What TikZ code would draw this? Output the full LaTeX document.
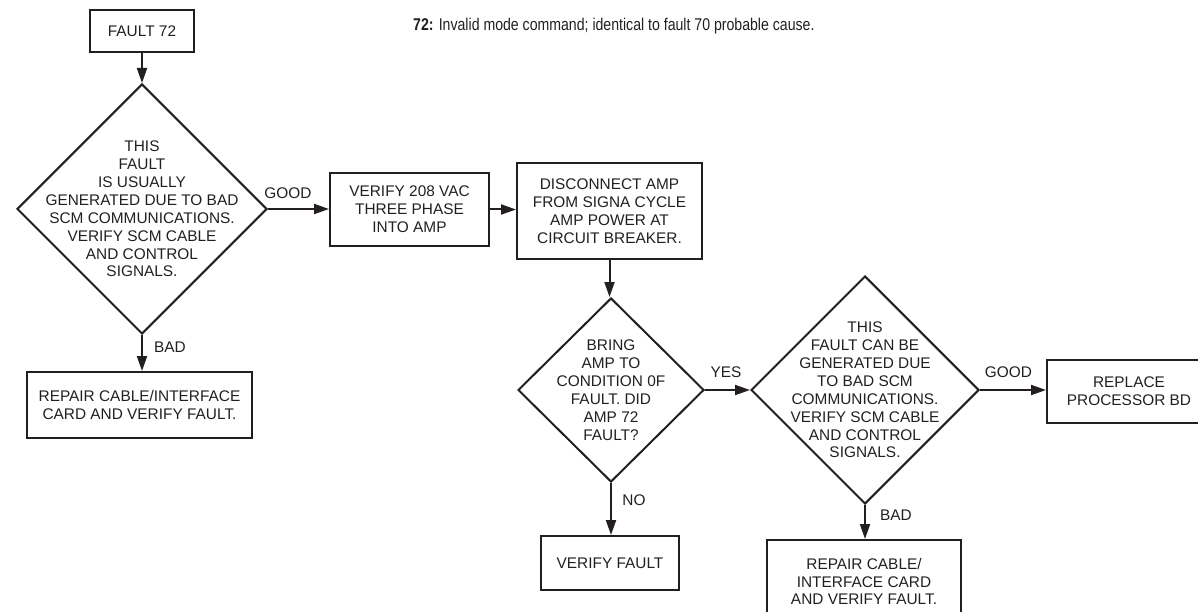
\documentclass[tikz,border=0pt]{standalone}
\usepackage{fontspec}
\setmainfont{Liberation Sans}
\newfontfamily\titlefont[FakeStretch=0.83]{Liberation Sans}
\usetikzlibrary{shapes.geometric,arrows.meta}
\definecolor{ink}{HTML}{231F20}

\newcommand{\chartfont}{\fontsize{15.4}{17.9}\selectfont}

\tikzset{
  every node/.style={text=ink, font=\chartfont},
  stepbox/.style={draw=ink, line width=2pt, rectangle, inner sep=0pt, align=center},
  decision/.style={draw=ink, line width=2pt, diamond, aspect=1, inner sep=0pt},
  flow/.style={draw=ink, line width=2pt, -{Triangle[length=15pt,width=10pt]}},
  tag/.style={inner sep=0pt, anchor=center}
}

\begin{document}
\begin{tikzpicture}[x=1pt,y=-1pt]
\useasboundingbox (0,0) rectangle (1198,612);
\clip (0,0) rectangle (1198,612);

% heading
\node[anchor=base west, inner sep=0pt, font=\titlefont\fontsize{17}{20}\selectfont] (title) at (413,31)
  {\textbf{72:} Invalid mode command; identical to fault 70 probable cause.};

% left branch
\node[stepbox, minimum width=104pt, minimum height=42pt] (f72) at (142,31) {FAULT 72};
\node[decision, minimum width=250pt, minimum height=250pt,
  label={[align=center, font=\chartfont]center:THIS\\FAULT\\IS USUALLY\\GENERATED DUE TO BAD\\SCM COMMUNICATIONS.\\VERIFY SCM CABLE\\AND CONTROL\\SIGNALS.}]
  (d1) at (142,209) {};
\node[stepbox, minimum width=225pt, minimum height=66pt] (rl) at (139.5,405)
  {REPAIR CABLE/INTERFACE\\CARD AND VERIFY FAULT.};

% middle row
\node[stepbox, minimum width=159pt, minimum height=73pt] (vac) at (409.5,209.5)
  {VERIFY 208 VAC\\THREE PHASE\\INTO AMP};
\node[stepbox, minimum width=185pt, minimum height=96pt] (disc) at (609.5,211)
  {DISCONNECT AMP\\FROM SIGNA CYCLE\\AMP POWER AT\\CIRCUIT BREAKER.};

% second decision
\node[decision, minimum width=186pt, minimum height=184pt,
  label={[align=center, font=\chartfont]center:BRING\\AMP TO\\CONDITION 0F\\FAULT. DID\\AMP 72\\FAULT?}]
  (d2) at (611,390) {};
\node[stepbox, minimum width=138pt, minimum height=54pt] (vf) at (610,563) {VERIFY FAULT};

% third decision
\node[decision, minimum width=228pt, minimum height=228pt,
  label={[align=center, font=\chartfont]center:THIS\\FAULT CAN BE\\GENERATED DUE\\TO BAD SCM\\COMMUNICATIONS.\\VERIFY SCM CABLE\\AND CONTROL\\SIGNALS.}]
  (d3) at (865,390) {};
\node[stepbox, minimum width=164pt, minimum height=63pt] (proc) at (1129,391.5)
  {REPLACE\\PROCESSOR BD};
\node[stepbox, minimum width=194pt, minimum height=83pt, text depth=0pt] (rr) at (864,581.5)
  {REPAIR CABLE/\\INTERFACE CARD\\AND VERIFY FAULT.};

% connectors
\draw[flow] (f72.south) -- (d1.north);
\draw[flow] (d1.east) -- (vac.west |- d1.east);
\draw[flow] (d1.south) -- (d1.south |- rl.north);
\draw[flow] (vac.east) -- (vac.east -| disc.west);
\draw[flow] (disc.south) -- (disc.south |- d2.north);
\draw[flow] (d2.south) -- (d2.south |- vf.north);
\draw[flow] (d2.east) -- (d3.west);
\draw[flow] (d3.east) -- (d3.east -| proc.west);
\draw[flow] (d3.south) -- (d3.south |- rr.north);

% branch labels
\node[tag] (good1) at (288,193) {GOOD};
\node[tag] (bad1) at (170,347) {BAD};
\node[tag] (yes2) at (726,372) {YES};
\node[tag] (no2) at (634,500) {NO};
\node[tag] (good3) at (1008.5,372) {GOOD};
\node[tag] (bad3) at (896,515) {BAD};
\end{tikzpicture}
\end{document}
